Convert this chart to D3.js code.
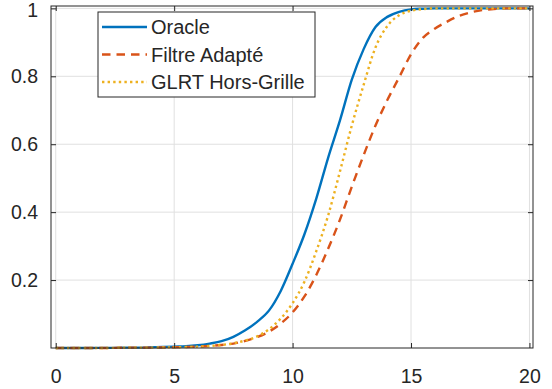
<!DOCTYPE html>
<html lang="en">
<head>
  <meta charset="UTF-8">
  <script src="https://cdn.jsdelivr.net/npm/d3@7"></script>
  <style>
    body { margin: 0; background: #fff; }
    svg { display: block; }
    text { font-family: "Liberation Sans", Arial, sans-serif; fill: #262626; }
  </style>
</head>
<body>
<div id="chart"></div>
<script>
  // SNR (x) values
  var snr = [0, 0.5, 1, 1.5, 2, 2.5, 3, 3.5, 4, 4.5, 5, 5.5, 6, 6.5, 7, 7.5, 8, 8.5, 9, 9.5,
             10, 10.5, 11, 11.5, 12, 12.5, 13, 13.5, 14, 14.5, 15, 15.5, 16, 16.5, 17, 17.5,
             18, 18.5, 19, 19.5, 20];

  // detection probabilities
  var oracle = [0, 0, 0, 0, 0.0005, 0.0005, 0.001, 0.001, 0.002, 0.003, 0.004, 0.005, 0.008, 0.013,
                0.02, 0.033, 0.052, 0.077, 0.11, 0.168, 0.248, 0.335, 0.44, 0.56, 0.67, 0.79, 0.88,
                0.945, 0.975, 0.99, 0.997, 0.999, 1, 1, 1, 1, 1, 1, 1, 1, 1];
  var filtre = [0, 0, 0, 0, 0, 0.0005, 0.001, 0.001, 0.001, 0.0015, 0.002, 0.003, 0.004, 0.006,
                0.009, 0.013, 0.021, 0.032, 0.048, 0.072, 0.105, 0.152, 0.215, 0.292, 0.378, 0.475,
                0.568, 0.655, 0.73, 0.797, 0.865, 0.913, 0.94, 0.96, 0.977, 0.988, 0.995, 0.998,
                1, 1, 1];
  var glrt = [0, 0, 0, 0, 0, 0.0005, 0.001, 0.001, 0.001, 0.0015, 0.002, 0.003, 0.004, 0.006,
              0.009, 0.014, 0.022, 0.034, 0.055, 0.087, 0.132, 0.195, 0.285, 0.39, 0.52, 0.655,
              0.775, 0.885, 0.948, 0.98, 0.993, 0.998, 1, 1, 1, 1, 1, 1, 1, 1, 1];

  var xTicks = [0, 5, 10, 15, 20];
  var yTicks = [0.2, 0.4, 0.6, 0.8, 1];

  var seriesNames = ["Oracle", "Filtre Adapté", "GLRT Hors-Grille"];
  var seriesValues = [oracle, filtre, glrt];
  var seriesColors = ["#0072BD", "#D95319", "#EDB120"];
  var seriesDash = [null, "8.5,6", "2.4,3.2"];

  var margin = {top: 6, right: 19, bottom: 41, left: 51};
  var width = 552 - margin.left - margin.right;
  var height = 389 - margin.top - margin.bottom;

  var svg = d3.select("#chart").append("svg")
      .attr("width", 552)
      .attr("height", 389);

  var g = svg.append("g")
      .attr("transform", "translate(" + margin.left + "," + margin.top + ")");

  var x = d3.scaleLinear().domain([-0.2, 20.15]).range([0, width]);
  var y = d3.scaleLinear().domain([0, 1.007]).range([height, 0]);

  // grid
  g.append("g").selectAll("line")
    .data(xTicks)
    .enter().append("line")
      .attr("x1", function(d) { return x(d); })
      .attr("x2", function(d) { return x(d); })
      .attr("y1", 0).attr("y2", height)
      .attr("stroke", "#e0e0e0").attr("stroke-width", 1);

  g.append("g").selectAll("line")
    .data(yTicks)
    .enter().append("line")
      .attr("y1", function(d) { return y(d); })
      .attr("y2", function(d) { return y(d); })
      .attr("x1", 0).attr("x2", width)
      .attr("stroke", "#e0e0e0").attr("stroke-width", 1);

  // curves
  var line = d3.line()
      .x(function(d, i) { return x(snr[i]); })
      .y(function(d) { return y(d); })
      .curve(d3.curveMonotoneX);

  seriesValues.forEach(function(vals, k) {
    g.append("path")
      .datum(vals)
      .attr("fill", "none")
      .attr("stroke", seriesColors[k])
      .attr("stroke-width", 2.4)
      .attr("stroke-dasharray", seriesDash[k])
      .attr("d", line);
  });

  // axes (MATLAB style: ticks inside, box on)
  var axBottom = g.append("g")
    .attr("transform", "translate(0," + height + ")")
    .call(d3.axisBottom(x).tickValues(xTicks).tickSize(-5).tickPadding(21));
  var axTop = g.append("g")
    .call(d3.axisTop(x).tickValues(xTicks).tickSize(-5).tickFormat(""));
  var axLeft = g.append("g")
    .call(d3.axisLeft(y).tickValues(yTicks).tickSize(-5).tickPadding(13)
      .tickFormat(function(d) { return d === 1 ? "1" : d3.format(".1f")(d); }));
  var axRight = g.append("g")
    .attr("transform", "translate(" + width + ",0)")
    .call(d3.axisRight(y).tickValues(yTicks).tickSize(-5).tickFormat(""));

  [axBottom, axTop, axLeft, axRight].forEach(function(a) {
    a.select(".domain").remove();
    a.selectAll("line").attr("stroke", "#262626");
    a.selectAll("text").attr("font-size", 19.5).attr("fill", "#262626")
      .style("font-family", "'Liberation Sans', Arial, sans-serif");
  });
  // top label sits a touch lower, as in the reference
  axLeft.selectAll("text").filter(function(d) { return d === 1; }).attr("dy", "0.42em");

  g.append("rect")
    .attr("width", width).attr("height", height)
    .attr("fill", "none").attr("stroke", "#262626").attr("stroke-width", 1);

  // legend
  var legend = svg.append("g").attr("transform", "translate(98,12)");
  legend.append("rect")
    .attr("width", 217).attr("height", 85)
    .attr("fill", "#fff").attr("stroke", "#262626").attr("stroke-width", 1);

  var item = legend.selectAll(".item")
    .data(seriesNames)
    .enter().append("g")
      .attr("class", "item")
      .attr("transform", function(d, i) { return "translate(0," + (15 + i * 27.5) + ")"; });

  item.append("line")
    .attr("x1", 4).attr("x2", 49)
    .attr("stroke", function(d, i) { return seriesColors[i]; })
    .attr("stroke-width", 2.4)
    .attr("stroke-dasharray", function(d, i) { return seriesDash[i]; });

  item.append("text")
    .attr("x", 53)
    .attr("y", 7)
    .attr("font-size", 20)
    .text(function(d) { return d; });
</script>
</body>
</html>
